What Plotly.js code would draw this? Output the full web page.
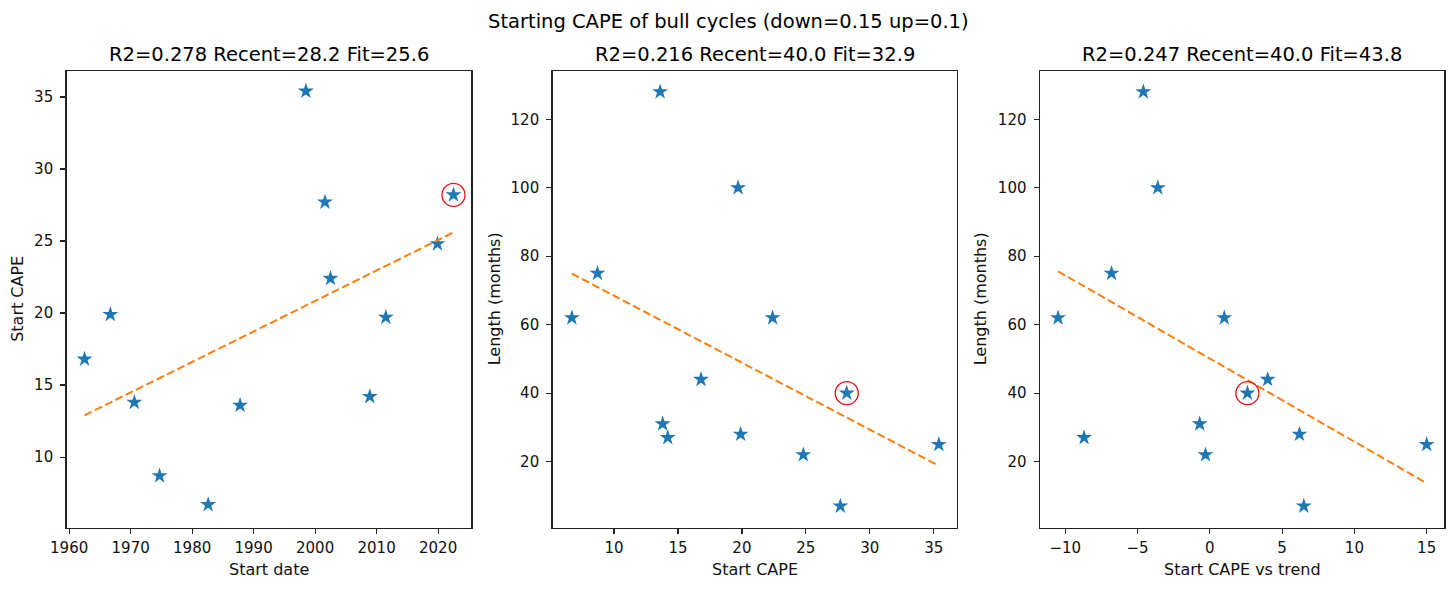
<!DOCTYPE html>
<html>
<head>
<meta charset="utf-8">
<script src="https://cdn.plot.ly/plotly-3.0.1.min.js"></script>
<style>
  html, body { margin: 0; padding: 0; background: #fff; }
  #chart { width: 1456px; height: 589px; }
</style>
</head>
<body>
<div id="chart"></div>
<script>
// Bull cycles: start date, start CAPE, CAPE vs trend, length (months)
const startDate = [1962.5, 1966.7, 1970.6, 1974.7, 1982.6, 1987.8, 1998.5, 2001.6, 2002.5, 2008.9, 2011.5, 2019.9, 2022.5];
const startCape = [16.8, 19.9, 13.8, 8.7, 6.7, 13.6, 35.4, 27.7, 22.4, 14.2, 19.7, 24.8, 28.2];
const capeVsTrend = [4.0, 6.2, -0.7, -6.8, -10.5, -4.6, 15.0, 6.5, 1.0, -8.7, -3.6, -0.3, 2.6];
const lengthMonths = [44, 28, 31, 75, 62, 128, 25, 7, 62, 27, 100, 22, 40];

// fitted line end points
const fit1X = [1962.5, 2022.5], fit1Y = [12.9, 25.6];
const fit2X = [6.7, 35.4], fit2Y = [74.9, 18.8];
const fit3X = [-10.5, 15.0], fit3Y = [75.6, 13.7];

const subTitles = [
  'R2=0.278 Recent=28.2 Fit=25.6',
  'R2=0.216 Recent=40.0 Fit=32.9',
  'R2=0.247 Recent=40.0 Fit=43.8'
];
const xTitles = ['Start date', 'Start CAPE', 'Start CAPE vs trend'];
const yTitles = ['Start CAPE', 'Length (months)', 'Length (months)'];
const supTitle = 'Starting CAPE of bull cycles (down=0.15 up=0.1)';

const FONT = 'DejaVu Sans';
const W = 1456, H = 589;
const last = startDate.length - 1;

const panels = [
  { x: startDate, y: startCape, fx: fit1X, fy: fit1Y, xr: [1959.6, 2025.4], yr: [5.1, 36.8], dtx: 10, t0x: 1960, dty: 5, t0y: 10, left: 66.7, right: 471.3, ylab: 17.5 },
  { x: startCape, y: lengthMonths, fx: fit2X, fy: fit2Y, xr: [5.2, 36.8], yr: [0.7, 134.1], dtx: 5, t0x: 10, dty: 20, t0y: 20, left: 552.7, right: 956.7, ylab: 494 },
  { x: capeVsTrend, y: lengthMonths, fx: fit3X, fy: fit3Y, xr: [-11.75, 16.2], yr: [0.7, 134.1], dtx: 5, t0x: -10, dty: 20, t0y: 20, left: 1040, right: 1444, ylab: 980 }
];
const plotTop = 71, plotBottom = 527.7;

const traces = [];
const layout = {
  width: W, height: H,
  margin: { t: 0, r: 0, b: 0, l: 0 },
  paper_bgcolor: '#fff', plot_bgcolor: '#fff',
  showlegend: false,
  font: { family: FONT, size: 15, color: '#000' },
  annotations: [
    { text: supTitle, xref: 'paper', yref: 'paper', x: 0.5, y: 1 - 21 / H, showarrow: false,
      font: { family: FONT, size: 19.5, color: '#000' }, xanchor: 'center', yanchor: 'middle' }
  ]
};

panels.forEach((p, i) => {
  const n = i === 0 ? '' : String(i + 1);
  const xa = 'x' + n, ya = 'y' + n;

  traces.push({
    type: 'scatter', mode: 'markers', x: p.x, y: p.y, xaxis: xa, yaxis: ya,
    marker: { symbol: 'star', size: 12, color: '#1f77b4', line: { width: 0 } }, hoverinfo: 'x+y'
  });
  traces.push({
    type: 'scatter', mode: 'lines', x: p.fx, y: p.fy, xaxis: xa, yaxis: ya,
    line: { color: '#ff7f0e', width: 2, dash: '8px,3.5px' }, hoverinfo: 'skip'
  });
  traces.push({
    type: 'scatter', mode: 'markers', x: [p.x[last]], y: [p.y[last]], xaxis: xa, yaxis: ya,
    marker: { symbol: 'circle-open', size: 23, color: '#e8141c', line: { width: 1.3, color: '#e8141c' } }, hoverinfo: 'skip'
  });

  const axCommon = {
    showgrid: false, zeroline: false, showline: true, mirror: true,
    linecolor: '#222', linewidth: 1.5, ticks: 'outside', ticklen: 5, tickwidth: 1.2, tickcolor: '#222',
    tickfont: { family: FONT, size: 15, color: '#111' }, fixedrange: true
  };
  layout['xaxis' + n] = Object.assign({}, axCommon, {
    domain: [p.left / W, p.right / W], range: p.xr, anchor: ya,
    tick0: p.t0x, dtick: p.dtx, ticklabelstandoff: 1
  });
  layout['yaxis' + n] = Object.assign({}, axCommon, {
    domain: [1 - plotBottom / H, 1 - plotTop / H], range: p.yr, anchor: xa,
    tick0: p.t0y, dtick: p.dty, ticklabelstandoff: 4
  });

  const cx = (p.left + p.right) / 2 / W;
  layout.annotations.push(
    { text: subTitles[i], xref: 'paper', yref: 'paper', x: cx, y: 1 - 55 / H, showarrow: false,
      font: { family: FONT, size: 19.5, color: '#000' }, xanchor: 'center', yanchor: 'middle' },
    { text: xTitles[i], xref: 'paper', yref: 'paper', x: cx, y: 1 - 569 / H, showarrow: false,
      font: { family: FONT, size: 16, color: '#111' }, xanchor: 'center', yanchor: 'middle' },
    { text: yTitles[i], xref: 'paper', yref: 'paper', x: p.ylab / W, y: 1 - ((plotTop + plotBottom) / 2) / H,
      showarrow: false, textangle: -90,
      font: { family: FONT, size: 16, color: '#111' }, xanchor: 'center', yanchor: 'middle' }
  );
});

Plotly.newPlot('chart', traces, layout, { displayModeBar: false, staticPlot: true });
</script>
</body>
</html>
